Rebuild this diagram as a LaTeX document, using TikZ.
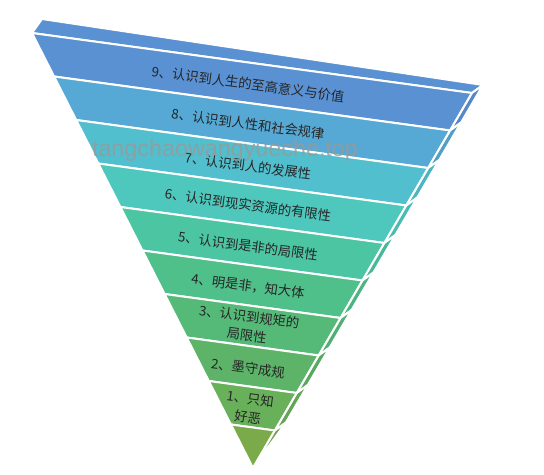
\documentclass[tikz,border=0pt]{standalone}
\usepackage{fontspec}
\setmainfont{Liberation Sans}
\newfontfamily\cjk{Noto Sans CJK SC}
\usetikzlibrary{calc}
\definecolor{c9}{HTML}{5A91D3}
\definecolor{c8}{HTML}{56A9D4}
\definecolor{c7}{HTML}{52BFCE}
\definecolor{c6}{HTML}{4EC7BD}
\definecolor{c5}{HTML}{4CC5A3}
\definecolor{c4}{HTML}{50C08A}
\definecolor{c3}{HTML}{55BA78}
\definecolor{c2}{HTML}{5DB468}
\definecolor{c1}{HTML}{68B05A}
\definecolor{c0}{HTML}{7AAA4A}
\tikzset{
  face/.style={draw=white, line width=1.5pt, line join=round},
  lbl/.style={font=\cjk\fontsize{10}{14}\selectfont, text=black!85, rotate=-7.6, align=center, inner sep=0pt},
  wm/.style={font=\fontsize{17.5}{20}\selectfont, text=black!40, opacity=0.8, anchor=base}
}
\begin{document}
\begin{tikzpicture}[x=0.75pt,y=-0.75pt]
\useasboundingbox (0,0) rectangle (544,475);
\coordinate (A) at (32,33);
\coordinate (B) at (472,93);
\coordinate (T) at (253,468);
\coordinate (TB) at (42,19);
\foreach \i in {0,...,10}{
  \pgfmathsetmacro\tt{\i/10}
  \coordinate (L\i) at ($(A)!\tt!(T)$);
  \coordinate (R\i) at ($(B)!\tt!(T)$);
  \coordinate (S\i) at ($(R\i)+(11,-8)$);
}
% top face
\path[face, fill=c9] (A) -- (TB) -- (S0) -- (B) -- cycle;
% front layers and side pieces
\foreach \i/\c in {0/c9,1/c8,2/c7,3/c6,4/c5,5/c4,6/c3,7/c2,8/c1}{
  \pgfmathtruncatemacro\j{\i+1}
  \path[face, fill=\c] (L\i) -- (R\i) -- (R\j) -- (L\j) -- cycle;
  \path[face, fill=\c!94!black] (R\i) -- (S\i) -- (S\j) -- (R\j) -- cycle;
}
\path[face, fill=c0] (L9) -- (R9) -- (T) -- cycle;
\path[face, fill=c0!94!black] (R9) -- (S9) -- (T) -- cycle;
% labels
\node[lbl] (n9) at (248,84) {9、认识到人生的至高意义与价值};
\node[lbl] (n8) at (248,124) {8、认识到人性和社会规律};
\node[lbl] (n7) at (248,166) {7、认识到人的发展性};
\node[lbl] (n6) at (248,205) {6、认识到现实资源的有限性};
\node[lbl] (n5) at (248,246) {5、认识到是非的局限性};
\node[lbl] (n4) at (248,286) {4、明是非，知大体};
\node[lbl] (n3) at (248,326) {3、认识到规矩的\\局限性};
\node[lbl] (n2) at (248,368) {2、墨守成规};
\node[lbl] (n1) at (249,408) {1、只知\\好恶};
% watermark
\node[wm] (wm) at (225,156) {tangchaowangyueche.top};
\end{tikzpicture}
\end{document}
